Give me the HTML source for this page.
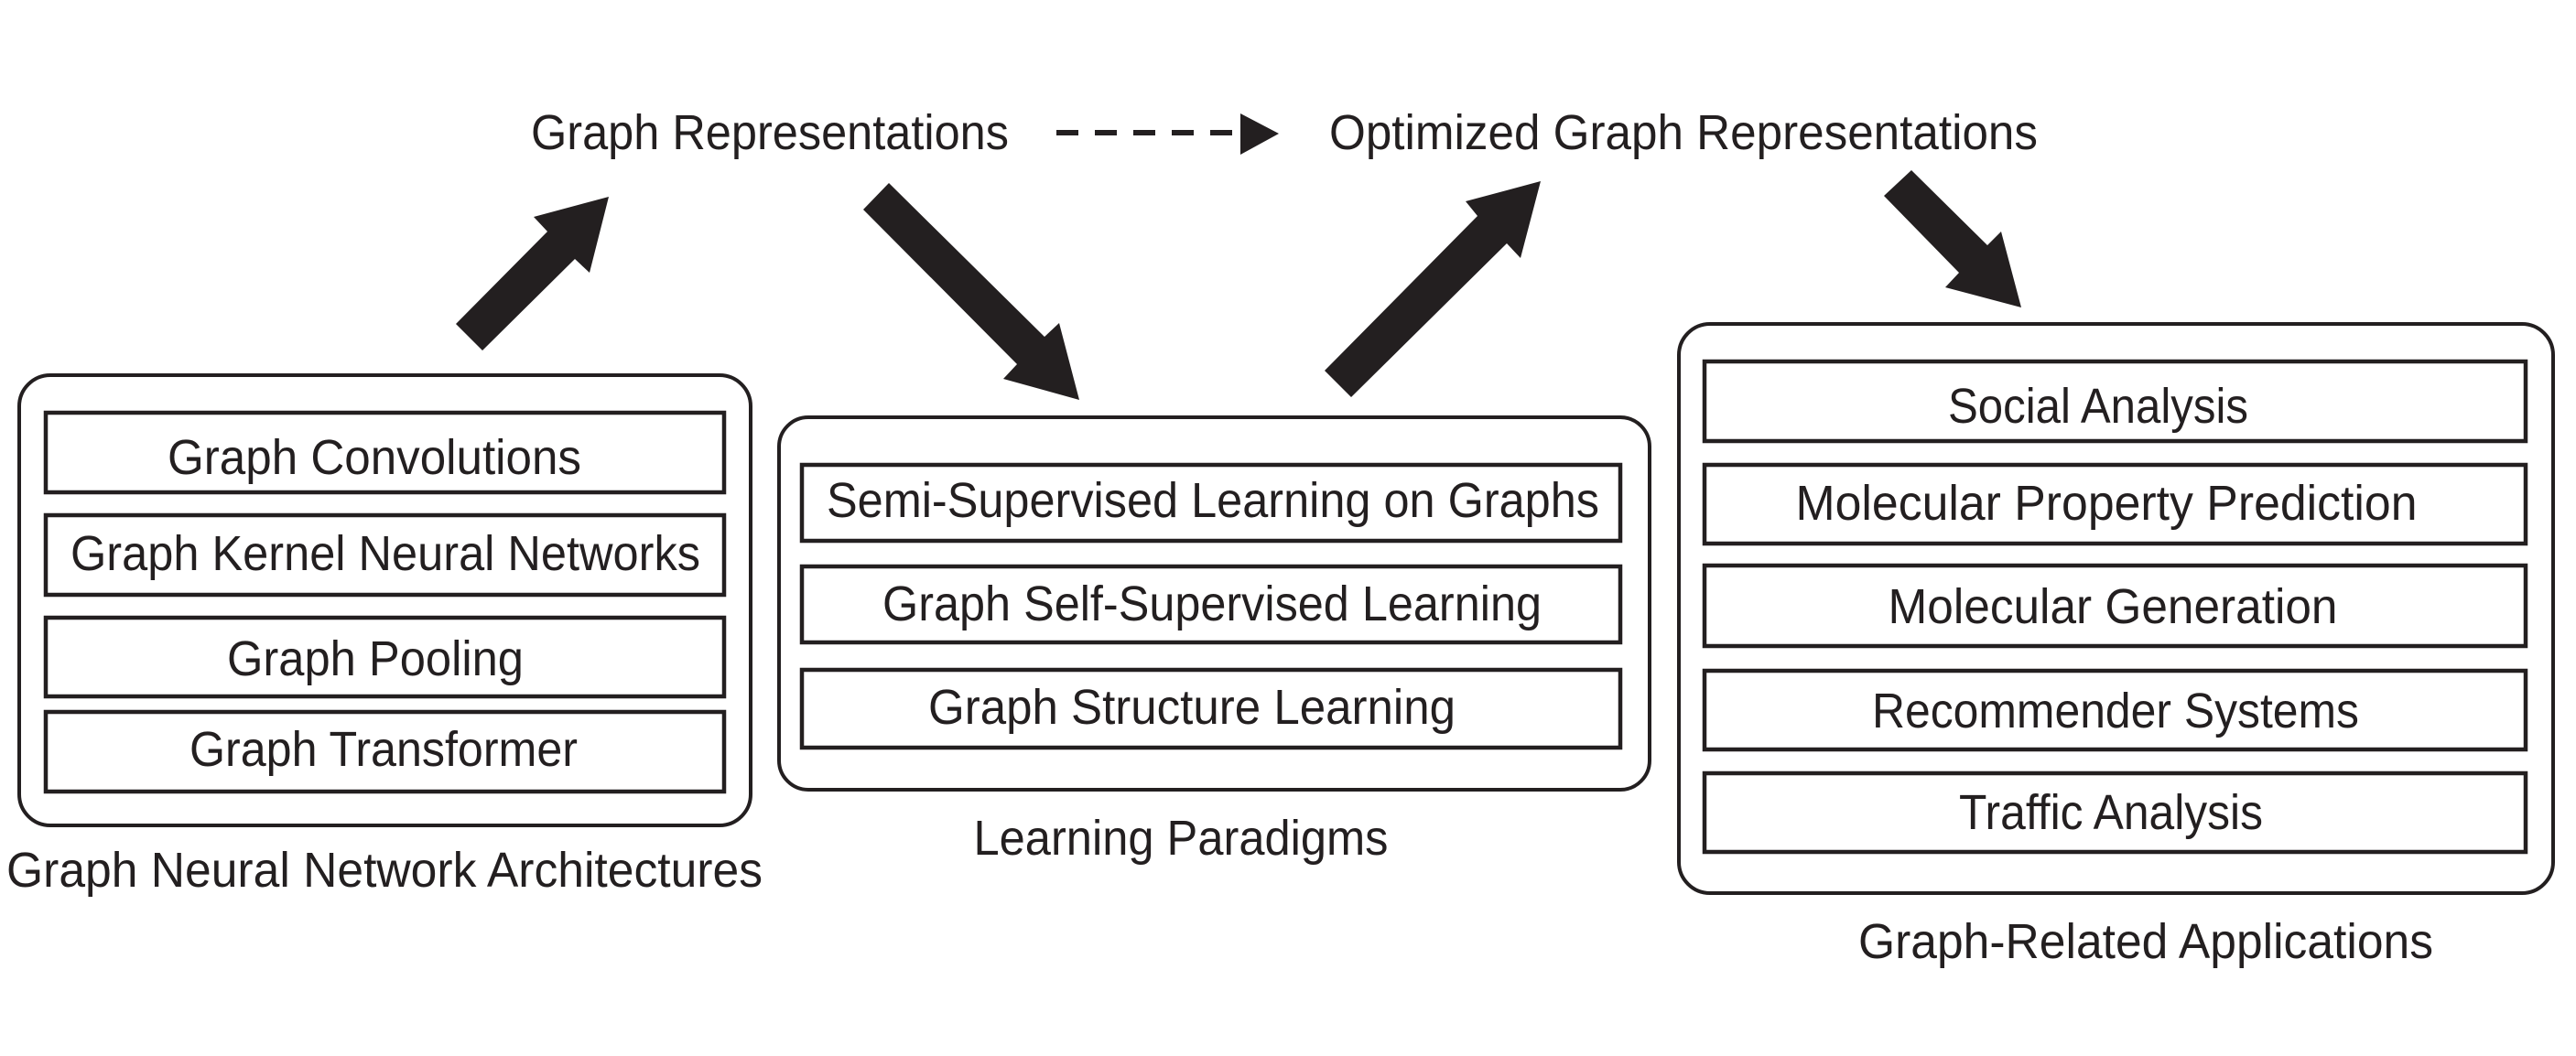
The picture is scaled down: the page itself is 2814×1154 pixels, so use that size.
<!DOCTYPE html>
<html><head><meta charset="utf-8"><style>
html,body{margin:0;padding:0;background:#fff;}
svg{display:block;}
text{font-family:"Liberation Sans",sans-serif;fill:#231f20;font-size:54px;}
</style></head><body>
<svg width="2814" height="1154" viewBox="0 0 2814 1154" xmlns="http://www.w3.org/2000/svg">
<g fill="none" stroke="#231f20" stroke-width="4">
<rect x="21" y="410" width="799" height="492" rx="34"/>
<rect x="851" y="456" width="951" height="407" rx="32"/>
<rect x="1834" y="354" width="955" height="622" rx="34"/>
<g stroke-width="4.5">
<rect x="50" y="451" width="741" height="87"/>
<rect x="50" y="563" width="741" height="87"/>
<rect x="50" y="675" width="741" height="86"/>
<rect x="50" y="778" width="741" height="87"/>
<rect x="876" y="508" width="894" height="83"/>
<rect x="876" y="619" width="894" height="83"/>
<rect x="876" y="732" width="894" height="85"/>
<rect x="1862" y="395" width="897" height="87"/>
<rect x="1862" y="508" width="897" height="86"/>
<rect x="1862" y="618" width="897" height="88"/>
<rect x="1862" y="733" width="897" height="86"/>
<rect x="1862" y="845" width="897" height="86"/>
</g>
<line x1="1154" y1="145" x2="1355" y2="145" stroke-width="6" stroke-dasharray="24,18"/>
</g>
<g fill="#231f20">
<polygon points="1355,124 1397,146 1355,169"/>
<polygon points="498,354 598,253 583,237 665,215 644,298 628,283 527,383"/>
<polygon points="971,200 1141,368 1157,353 1179,437 1096,414 1111,398 943,229"/>
<polygon points="1447,405 1614,236 1601,220 1683,198 1661,282 1646,266 1476,434"/>
<polygon points="2088,186 2171,268 2186,253 2208,336 2125,314 2140,298 2058,214"/>
</g>
<g text-anchor="middle">
<text x="841" y="163" textLength="522" lengthAdjust="spacingAndGlyphs">Graph Representations</text>
<text x="1839" y="163" textLength="774" lengthAdjust="spacingAndGlyphs">Optimized Graph Representations</text>
<text x="409" y="518" textLength="452" lengthAdjust="spacingAndGlyphs">Graph Convolutions</text>
<text x="421" y="623" textLength="688" lengthAdjust="spacingAndGlyphs">Graph Kernel Neural Networks</text>
<text x="410" y="738" textLength="324" lengthAdjust="spacingAndGlyphs">Graph Pooling</text>
<text x="419" y="837" textLength="424" lengthAdjust="spacingAndGlyphs">Graph Transformer</text>
<text x="420" y="969" textLength="826" lengthAdjust="spacingAndGlyphs">Graph Neural Network Architectures</text>
<text x="1325" y="565" textLength="844" lengthAdjust="spacingAndGlyphs">Semi-Supervised Learning on Graphs</text>
<text x="1324" y="678" textLength="720" lengthAdjust="spacingAndGlyphs">Graph Self-Supervised Learning</text>
<text x="1302" y="791" textLength="576" lengthAdjust="spacingAndGlyphs">Graph Structure Learning</text>
<text x="1290" y="934" textLength="453" lengthAdjust="spacingAndGlyphs">Learning Paradigms</text>
<text x="2292" y="462" textLength="328" lengthAdjust="spacingAndGlyphs">Social Analysis</text>
<text x="2301" y="568" textLength="679" lengthAdjust="spacingAndGlyphs">Molecular Property Prediction</text>
<text x="2308" y="681" textLength="491" lengthAdjust="spacingAndGlyphs">Molecular Generation</text>
<text x="2311" y="795" textLength="532" lengthAdjust="spacingAndGlyphs">Recommender Systems</text>
<text x="2306" y="906" textLength="332" lengthAdjust="spacingAndGlyphs">Traffic Analysis</text>
<text x="2344" y="1047" textLength="628" lengthAdjust="spacingAndGlyphs">Graph-Related Applications</text>
</g>
</svg>
</body></html>
